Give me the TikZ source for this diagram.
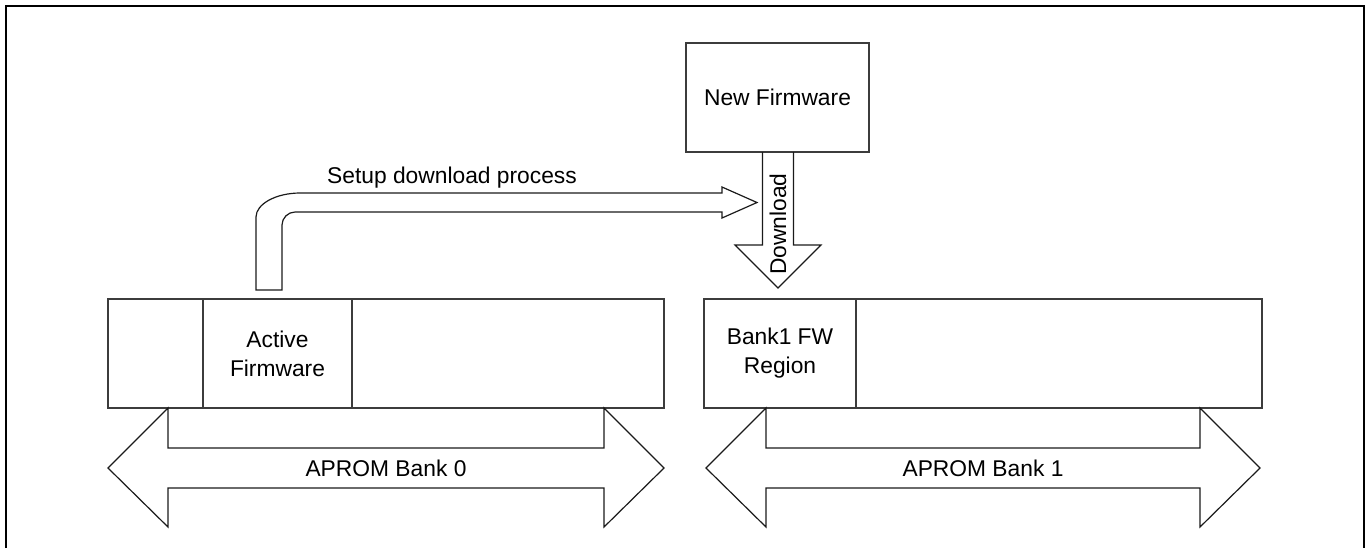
\documentclass[tikz,border=0pt]{standalone}
\usepackage{fontspec}
\setmainfont{Liberation Sans}
\usetikzlibrary{positioning}
\definecolor{my_black}{HTML}{1A1A1A}
\definecolor{my_gray}{HTML}{3C3C3C}

\begin{document}
\begin{tikzpicture}[
    x=0.5pt, y=-0.5pt,
    cell/.style={draw=my_gray, line width=0.6pt, minimum height=54.5pt,
        inner sep=0pt, outer sep=0pt, align=center,
        font=\fontsize{11.4}{14.5}\selectfont},
    blockarrow/.style={draw=my_black, line width=0.6pt, line join=miter},
    caption/.style={font=\fontsize{11.4}{14.5}\selectfont, inner sep=0pt}
]
\useasboundingbox (0,0) rectangle (1365,548);

% ----------------------------------------------------------
% Outer frame (open at the bottom)
% ----------------------------------------------------------
\draw[black, line width=1.1pt] (6,548) -- (6,6) -- (1364,6) -- (1364,548);

% ----------------------------------------------------------
% Firmware image to be downloaded
% ----------------------------------------------------------
\node[cell, minimum width=91.5pt] (newfw) at (777.5,97.5) {New Firmware};

% ----------------------------------------------------------
% APROM bank 0: spare | active firmware | rest
% ----------------------------------------------------------
\node[cell, minimum width=47.5pt, anchor=north west] (b0spare) at (108,299) {};
\node[cell, minimum width=74.5pt, right=0pt of b0spare] (active) {Active\\Firmware};
\node[cell, minimum width=156pt, right=0pt of active] (b0rest) {};

% ----------------------------------------------------------
% APROM bank 1: firmware region | rest
% ----------------------------------------------------------
\node[cell, minimum width=76pt, anchor=north west] (b1fw) at (704,299) {Bank1 FW\\Region};
\node[cell, minimum width=203pt, right=0pt of b1fw] (b1rest) {};

% ----------------------------------------------------------
% Bent block arrow: active firmware sets up the download
% ----------------------------------------------------------
\draw[blockarrow]
    (256,290) -- (256,217)
    .. controls (256,204) and (276,193) .. (300,193)   % outer corner
 -- (722,193) -- (722,187) -- (757,202.5) -- (722,218) -- (722,212)
 -- (295,212)
    .. controls (288,212) and (282,218) .. (282,225)   % inner corner
 -- (282,290) -- cycle;
\node[caption] (setup) at (452,178) {Setup download process};

% ----------------------------------------------------------
% Download arrow from the new image into bank 1
% ----------------------------------------------------------
\draw[blockarrow]
    ([xshift=-7.5pt]newfw.south) -- ++(0,93) -- (735,245) -- (778,288)
 -- (821,245) -- ([xshift=8pt]newfw.south |- 0,245) -- ([xshift=8pt]newfw.south);
\node[caption, rotate=90] (download) at (778,224) {Download};

% ----------------------------------------------------------
% Double arrows spanning each bank
% ----------------------------------------------------------
\foreach \xl/\xr/\num in {108/664/0, 706/1260/1} {
    \draw[blockarrow]
        (\xl,468) -- (\xl+60,408) -- (\xl+60,448) -- (\xr-60,448)
     -- (\xr-60,408) -- (\xr,468) -- (\xr-60,527) -- (\xr-60,488)
     -- (\xl+60,488) -- (\xl+60,527) -- cycle;
    \node[caption] (bank\num) at ({(\xl+\xr)/2},468) {APROM Bank \num};
}

\end{tikzpicture}
\end{document}
